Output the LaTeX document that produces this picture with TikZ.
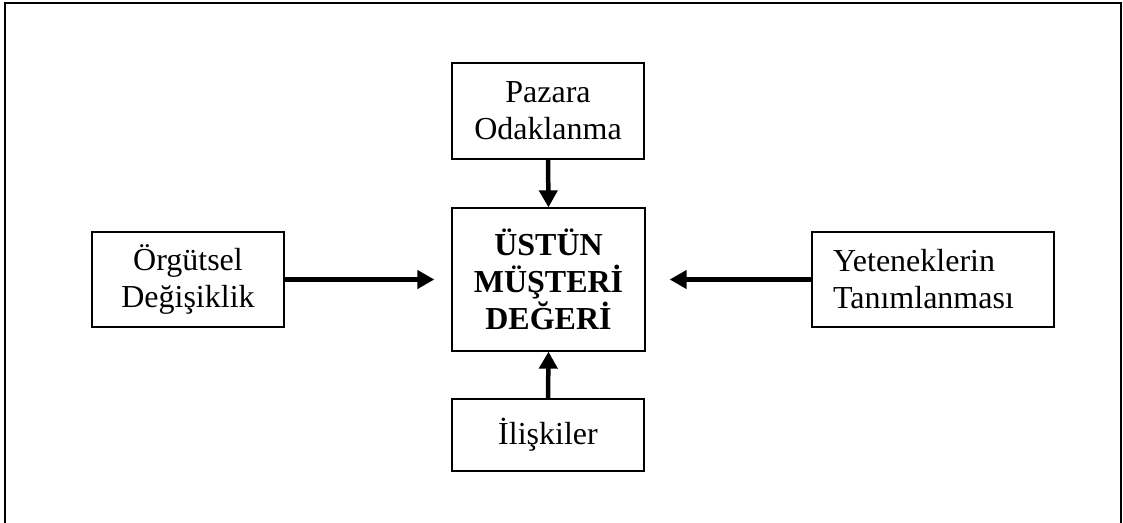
\documentclass[tikz,border=0pt]{standalone}
\usepackage{fontspec}
\setmainfont{Liberation Serif}
\usetikzlibrary{arrows.meta}
\begin{document}
\begin{tikzpicture}[x=1pt,y=-1pt,
  boxnode/.style={draw,line width=1.3pt,inner sep=0pt,align=center,
    font=\fontsize{32}{37}\selectfont},
  bigarrow/.style={line width=4.5pt,-{Triangle[length=17pt,width=18pt]}}]
\useasboundingbox (0,0) rectangle (1123,522);
\draw[line width=2pt] (5,530) -- (5,3) -- (1121,3) -- (1121,530);
\node[boxnode,minimum width=192pt,minimum height=96pt] (paz) at (548,111) {Pazara\\Odaklanma};
\node[boxnode,minimum width=193pt,minimum height=143pt,font=\fontsize{32}{37}\selectfont\bfseries] (c) at (548.5,279.5) {ÜSTÜN\\MÜŞTERİ\\DEĞERİ};
\node[boxnode,minimum width=192pt,minimum height=72pt] (ili) at (548,435) {İlişkiler};
\node[boxnode,minimum width=192pt,minimum height=95pt] (org) at (188,279.5) {Örgütsel\\Değişiklik};
\node[boxnode,minimum width=242pt,minimum height=95pt,align=left,text width=200pt,inner xsep=21pt] (yet) at (933,279.5) {Yeteneklerin\\Tanımlanması};
\draw[bigarrow] (paz.south) -- (c.north);
\draw[bigarrow] (ili.north) -- (c.south);
\draw[bigarrow] (org.east) -- ([xshift=-17pt]c.west);
\draw[bigarrow] (yet.west) -- ([xshift=24pt]c.east);
\end{tikzpicture}
\end{document}
